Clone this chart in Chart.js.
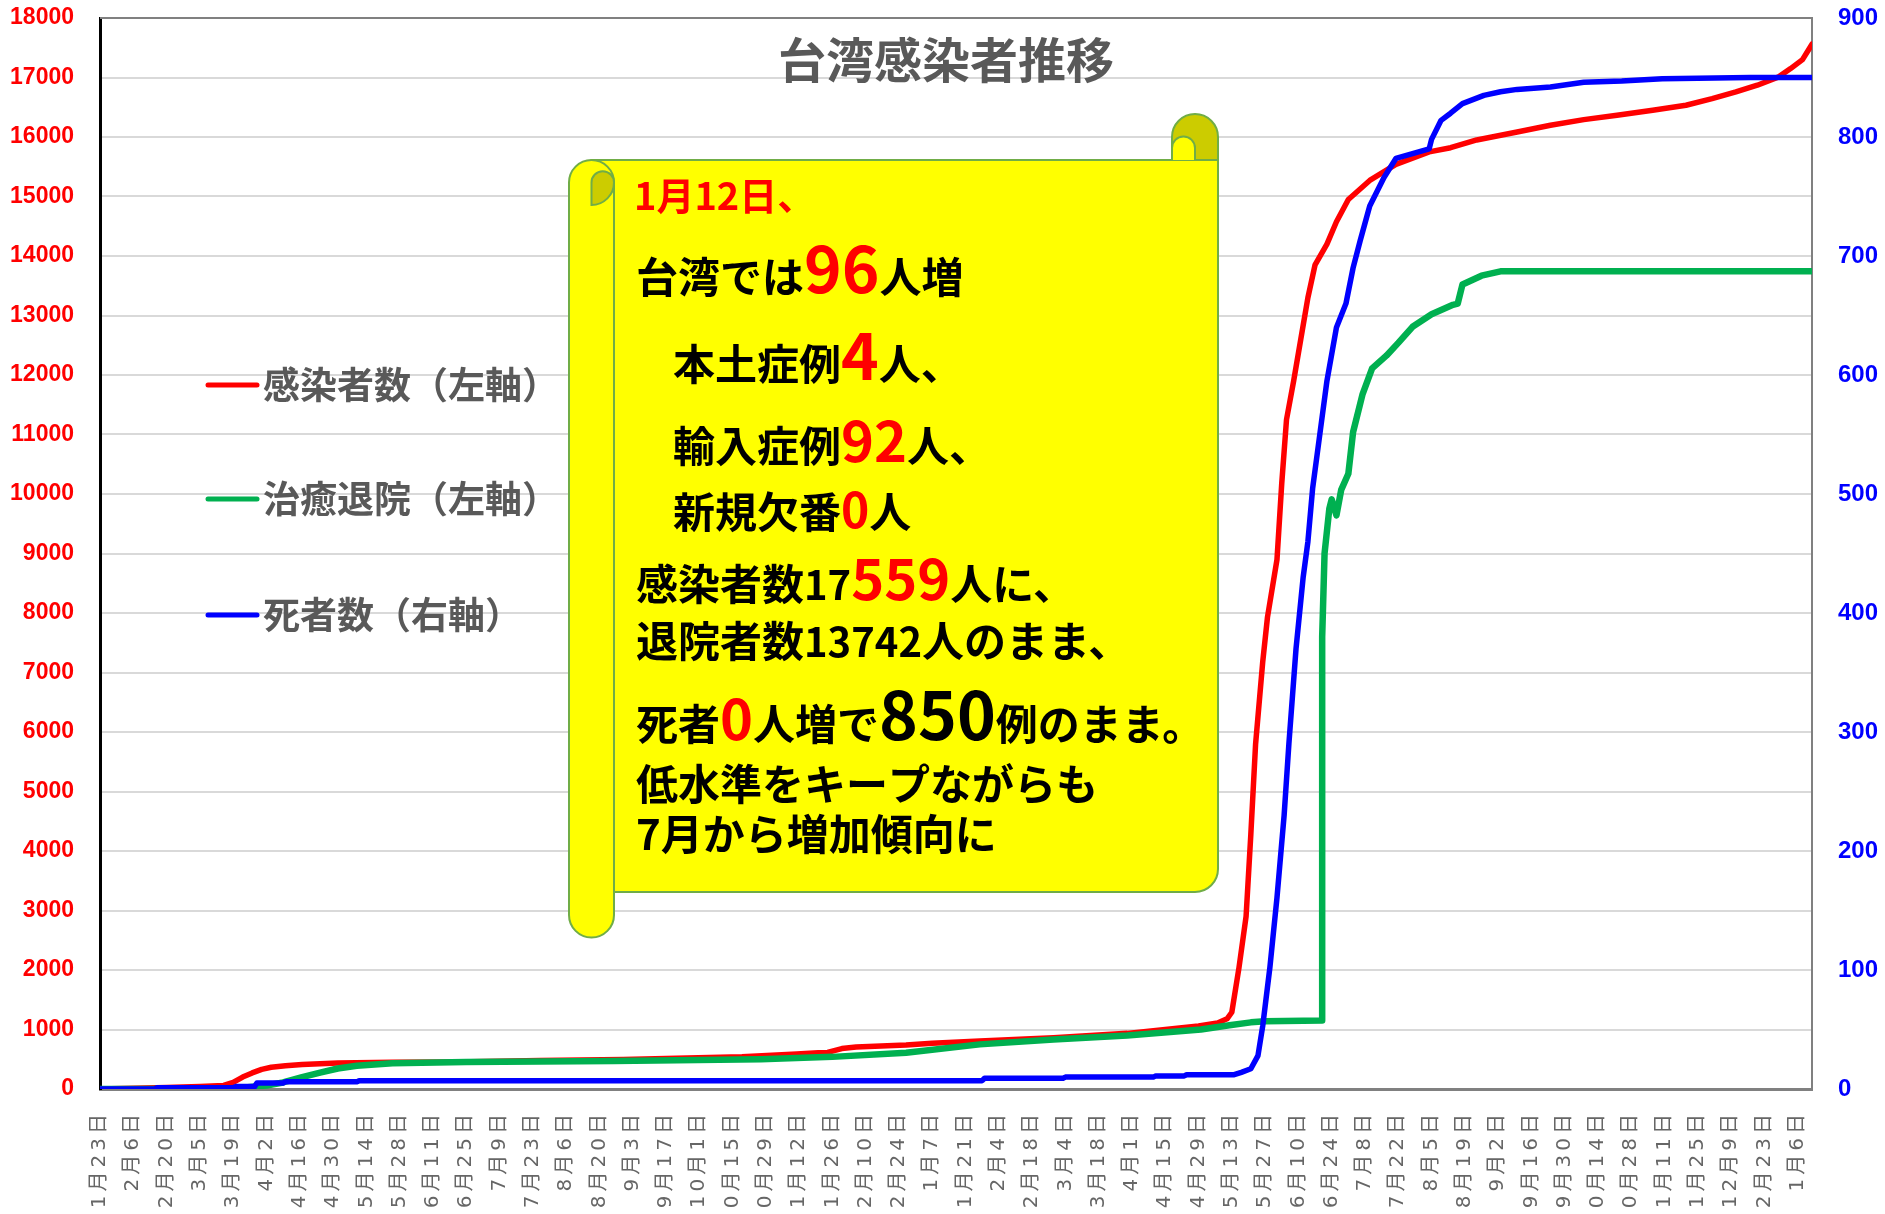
<!DOCTYPE html>
<html lang="ja">
<head>
<meta charset="utf-8">
<title>台湾感染者推移</title>
<script src="https://cdn.jsdelivr.net/npm/chart.js@4.4.1/dist/chart.umd.min.js"></script>
<style>
  html, body { margin: 0; padding: 0; background: #fff; }
  #wrap { width: 1885px; height: 1214px; position: relative; }
</style>
</head>
<body>
<div id="wrap"><canvas id="taiwanChart"></canvas></div>
<script>
// x軸ラベル（14日ごと、2020/1/23 = 0日目）
const dateLabels = [
  '1月23日', '2月6日', '2月20日', '3月5日', '3月19日', '4月2日', '4月16日', '4月30日',
  '5月14日', '5月28日', '6月11日', '6月25日', '7月9日', '7月23日', '8月6日', '8月20日',
  '9月3日', '9月17日', '10月1日', '10月15日', '10月29日', '11月12日', '11月26日', '12月10日',
  '12月24日', '1月7日', '1月21日', '2月4日', '2月18日', '3月4日', '3月18日', '4月1日',
  '4月15日', '4月29日', '5月13日', '5月27日', '6月10日', '6月24日', '7月8日', '7月22日',
  '8月5日', '8月19日', '9月2日', '9月16日', '9月30日', '10月14日', '10月28日', '11月11日',
  '11月25日', '12月9日', '12月23日', '1月6日'
];

// 感染者数（左軸）
const infectedDays = [0, 14, 28, 42, 52, 56, 60, 64, 68, 72, 78, 85, 100, 123, 150, 185, 220, 247, 270, 293,
  302, 306, 312, 318, 339, 350, 370, 401, 432, 455, 462, 470, 474, 476, 479, 482, 484, 486, 489, 491,
  495, 497, 499, 502, 505, 508, 511, 516, 520, 525, 534, 545, 559, 568, 579, 596, 610, 624, 638, 653,
  667, 678, 688, 697, 706, 711, 716, 720];
const infectedCounts = [1, 11, 24, 42, 60, 110, 200, 270, 330, 365, 390, 410, 435, 450, 455, 480, 495, 520, 540, 590,
  610, 615, 680, 705, 740, 770, 805, 861, 935, 1030, 1060, 1110, 1180, 1290, 2035, 2900, 4285, 5800, 7180, 7930,
  8900, 10180, 11250, 11900, 12600, 13300, 13850, 14200, 14575, 14950, 15270, 15540, 15750, 15820, 15950, 16084, 16197, 16292, 16365, 16449,
  16534, 16646, 16758, 16870, 17011, 17150, 17300, 17559];

// 治癒退院（左軸）
const recoveredDays = [0, 58, 62, 70, 77, 85, 93, 100, 108, 123, 154, 216, 278, 308, 339, 370, 401, 432, 463, 475,
  484, 490, 514, 514, 515, 517, 518, 520, 522, 525, 527, 531, 535, 541, 546, 552, 560, 569, 571, 573,
  581, 589, 720];
const recoveredCounts = [0, 0, 28, 60, 110, 200, 278, 345, 390, 433, 455, 472, 500, 540, 611, 750, 833, 900, 1000, 1070,
  1120, 1140, 1150, 7600, 9000, 9750, 9910, 9640, 10070, 10340, 11040, 11680, 12110, 12325, 12540, 12810, 13020, 13180, 13200, 13520,
  13669, 13742, 13742];

// 死者数（右軸）
const deathDays = [0, 23, 24, 56, 57, 65, 66, 77, 78, 108, 109, 371, 372, 405, 406, 443, 444, 456, 457, 477,
  480, 484, 487, 489, 492, 495, 498, 500, 503, 506, 508, 510, 513, 516, 520, 524, 527, 530, 534, 540,
  545, 552, 559, 560, 564, 568, 573, 582, 589, 596, 610, 624, 640, 657, 694, 720];
const deathCounts = [0, 0, 1, 1, 2, 2, 5, 5, 6, 6, 7, 7, 9, 9, 10, 10, 11, 11, 12, 12,
  14, 17, 28, 53, 102, 161, 230, 290, 370, 430, 460, 505, 550, 595, 640, 660, 690, 713, 742, 766,
  782, 786, 790, 798, 814, 820, 828, 835, 838, 840, 842, 846, 847, 849, 850, 850];

const toPoints = (days, values) => days.map((d, i) => ({ x: d, y: values[i] }));

const GRAY = '#595959';
const JP = '"Noto Sans CJK JP", "Noto Sans CJK SC", sans-serif';

// 巻物の吹き出しの文字（[文字, サイズ, 色]）
const noteLines = [
  { x: 634, y: 210, runs: [['1月12日、', 38, '#ff0000']] },
  { x: 636, y: 293, runs: [['台湾では', 42, '#000'], ['96', 64, '#ff0000'], ['人増', 42, '#000']] },
  { x: 673, y: 380, runs: [['本土症例', 42, '#000'], ['4', 64, '#ff0000'], ['人、', 42, '#000']] },
  { x: 673, y: 462, runs: [['輸入症例', 42, '#000'], ['92', 56, '#ff0000'], ['人、', 42, '#000']] },
  { x: 673, y: 528, runs: [['新規欠番', 42, '#000'], ['0', 48, '#ff0000'], ['人', 42, '#000']] },
  { x: 636, y: 600, runs: [['感染者数', 42, '#000'], ['17', 40, '#000'], ['559', 56, '#ff0000'], ['人に、', 42, '#000']] },
  { x: 636, y: 657, runs: [['退院者数', 42, '#000'], ['13742', 40, '#000'], ['人のまま、', 42, '#000']] },
  { x: 636, y: 740, runs: [['死者', 42, '#000'], ['0', 56, '#ff0000'], ['人増で', 42, '#000'], ['850', 66, '#000'], ['例のまま。', 42, '#000']] },
  { x: 636, y: 800, runs: [['低水準をキープながらも', 42, '#000']] },
  { x: 636, y: 850, runs: [['7月から増加傾向に', 42, '#000']] }
];

function drawScroll(ctx) {
  const yellow = '#ffff00', olive = '#cccc00', edge = '#70ad47';
  const L = 569, R = 1218, T = 160, B = 892, r = 22.5;
  ctx.save();
  ctx.lineWidth = 2;
  ctx.strokeStyle = edge;

  // 本体
  ctx.beginPath();
  ctx.moveTo(L + r, T);
  ctx.lineTo(R, T);
  ctx.lineTo(R, B - 23);
  ctx.arcTo(R, B, R - 23, B, 23);
  ctx.lineTo(L + r, B);
  ctx.closePath();
  ctx.fillStyle = yellow;
  ctx.fill();
  ctx.stroke();

  // 右上の巻き
  const cx = R - 23;
  ctx.beginPath();
  ctx.moveTo(R - 46, T);
  ctx.lineTo(R - 46, T - 23);
  ctx.arc(cx, T - 23, 23, Math.PI, 0);
  ctx.lineTo(R, T);
  ctx.closePath();
  ctx.fillStyle = olive;
  ctx.fill();
  ctx.stroke();
  ctx.beginPath();
  ctx.moveTo(R - 46, T);
  ctx.lineTo(R - 46, T - 12);
  ctx.arc(R - 34.5, T - 12, 11.5, Math.PI, 0);
  ctx.lineTo(R - 23, T);
  ctx.fillStyle = yellow;
  ctx.fill();
  ctx.stroke();

  // 左の巻き（縦）
  ctx.beginPath();
  ctx.moveTo(L, T + r);
  ctx.lineTo(L, 915);
  ctx.arc(L + r, 915, r, Math.PI, 0, true);
  ctx.lineTo(L + 2 * r, T + r);
  ctx.arc(L + r, T + r, r, 0, Math.PI, true);
  ctx.closePath();
  ctx.fillStyle = yellow;
  ctx.fill();
  ctx.stroke();

  ctx.beginPath();
  ctx.moveTo(L + r, T + 2 * r);
  ctx.lineTo(L + r, T + r);
  ctx.arc(L + r + 11.25, T + r, 11.25, Math.PI, 0);
  ctx.arc(L + r, T + r, r, 0, Math.PI / 2);
  ctx.closePath();
  ctx.fillStyle = olive;
  ctx.fill();
  ctx.stroke();
  ctx.restore();

  // 文字
  ctx.save();
  ctx.textBaseline = 'alphabetic';
  ctx.textAlign = 'left';
  noteLines.forEach(line => {
    let x = line.x;
    line.runs.forEach(([text, size, color]) => {
      ctx.font = `bold ${size}px ${JP}`;
      ctx.fillStyle = color;
      ctx.fillText(text, x, line.y);
      x += ctx.measureText(text).width;
    });
  });
  ctx.restore();
}

const overlayPlugin = {
  id: 'overlay',
  afterDraw(chart) {
    const ctx = chart.ctx;
    const area = chart.chartArea;

    // 上枠
    ctx.save();
    ctx.strokeStyle = '#808080';
    ctx.lineWidth = 2;
    ctx.beginPath();
    ctx.moveTo(area.left, area.top);
    ctx.lineTo(area.right, area.top);
    ctx.stroke();
    ctx.restore();

    // タイトル
    ctx.save();
    ctx.font = `bold 48px ${JP}`;
    ctx.fillStyle = GRAY;
    ctx.textAlign = 'center';
    ctx.textBaseline = 'middle';
    ctx.fillText('台湾感染者推移', 946, 60);
    ctx.restore();

    // 凡例
    const legendY = [385, 499, 615];
    ctx.save();
    chart.data.datasets.forEach((ds, i) => {
      const y = legendY[i];
      ctx.strokeStyle = ds.borderColor;
      ctx.lineWidth = 5;
      ctx.lineCap = 'round';
      ctx.beginPath();
      ctx.moveTo(208, y);
      ctx.lineTo(257, y);
      ctx.stroke();
      ctx.font = `bold 37px ${JP}`;
      ctx.fillStyle = GRAY;
      ctx.textBaseline = 'middle';
      ctx.fillText(ds.label, 263, y);
    });
    ctx.restore();

    drawScroll(ctx);
  }
};

const yFit = width => s => {
  s.width = width;
  s.paddingTop = 0;
  s.paddingBottom = 0;
};

new Chart(document.getElementById('taiwanChart'), {
  type: 'line',
  data: {
    datasets: [
      {
        label: '感染者数（左軸）',
        data: toPoints(infectedDays, infectedCounts),
        borderColor: '#ff0000',
        borderWidth: 5.5,
        yAxisID: 'y',
        order: 3
      },
      {
        label: '治癒退院（左軸）',
        data: toPoints(recoveredDays, recoveredCounts),
        borderColor: '#00b050',
        borderWidth: 6.5,
        yAxisID: 'y',
        order: 2
      },
      {
        label: '死者数（右軸）',
        data: toPoints(deathDays, deathCounts),
        borderColor: '#0000ff',
        borderWidth: 5.5,
        yAxisID: 'y2',
        order: 1
      }
    ]
  },
  options: {
    responsive: true,
    maintainAspectRatio: false,
    animation: false,
    layout: { padding: { top: 18, left: 0, right: 0, bottom: 0 } },
    elements: {
      point: { radius: 0 },
      line: { tension: 0, borderJoinStyle: 'round', borderCapStyle: 'round' }
    },
    plugins: {
      legend: { display: false },
      title: { display: false },
      tooltip: { enabled: false }
    },
    scales: {
      x: {
        type: 'linear',
        min: 0,
        max: 720,
        afterFit: s => { s.height = 125; },
        grid: { display: false, drawTicks: false },
        border: { color: '#808080', width: 3 },
        ticks: {
          stepSize: 14,
          includeBounds: false,
          autoSkip: false,
          minRotation: 90,
          maxRotation: 90,
          padding: 25,
          color: '#666666',
          font: { family: '"DejaVu Sans", "Noto Sans CJK JP"', size: 20 },
          // 縦書き風に文字間を少し空ける
          callback: v => (dateLabels[v / 14] ?? '').split('').join('\u2009')
        }
      },
      y: {
        position: 'left',
        min: 0,
        max: 18000,
        afterFit: yFit(100),
        grid: { color: '#d9d9d9', lineWidth: 2, drawTicks: false },
        border: { color: '#000000', width: 3 },
        ticks: {
          stepSize: 1000,
          padding: 26,
          color: '#ff0000',
          font: { family: '"Liberation Sans", Arial, sans-serif', size: 23, weight: 'bold' },
          callback: v => String(v)
        }
      },
      y2: {
        position: 'right',
        min: 0,
        max: 900,
        afterFit: yFit(73),
        grid: { display: false, drawTicks: false },
        border: { color: '#808080', width: 2 },
        ticks: {
          stepSize: 100,
          padding: 26,
          color: '#0000ff',
          font: { family: '"Liberation Sans", Arial, sans-serif', size: 24, weight: 'bold' },
          callback: v => String(v)
        }
      }
    }
  },
  plugins: [overlayPlugin]
});
</script>
</body>
</html>
